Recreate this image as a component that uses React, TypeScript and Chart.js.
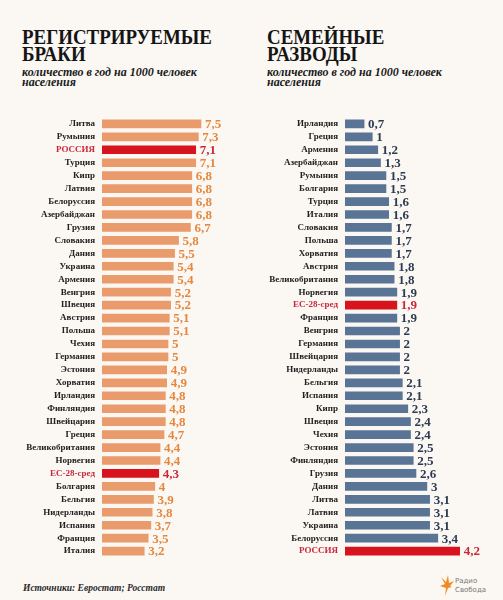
import React, { useEffect, useRef } from "react";
import { Chart, registerables } from "chart.js";

Chart.register(...registerables);

const marriageCountries = [
  "Литва", "Румыния", "РОССИЯ", "Турция", "Кипр", "Латвия", "Белоруссия", "Азербайджан",
  "Грузия", "Словакия", "Дания", "Украина", "Армения", "Венгрия", "Швеция", "Австрия",
  "Польша", "Чехия", "Германия", "Эстония", "Хорватия", "Ирландия", "Финляндия", "Швейцария",
  "Греция", "Великобритания", "Норвегия", "ЕС-28-сред", "Болгария", "Бельгия", "Нидерланды",
  "Испания", "Франция", "Италия",
];
const marriageValues = [
  7.5, 7.3, 7.1, 7.1, 6.8, 6.8, 6.8, 6.8, 6.7, 5.8, 5.5, 5.4, 5.4, 5.2, 5.2, 5.1, 5.1, 5, 5,
  4.9, 4.9, 4.8, 4.8, 4.8, 4.7, 4.4, 4.4, 4.3, 4, 3.9, 3.8, 3.7, 3.5, 3.2,
];

const divorceCountries = [
  "Ирландия", "Греция", "Армения", "Азербайджан", "Румыния", "Болгария", "Турция", "Италия",
  "Словакия", "Польша", "Хорватия", "Австрия", "Великобритания", "Норвегия", "ЕС-28-сред",
  "Франция", "Венгрия", "Германия", "Швейцария", "Нидерланды", "Бельгия", "Испания", "Кипр",
  "Швеция", "Чехия", "Эстония", "Финляндия", "Грузия", "Дания", "Литва", "Латвия", "Украина",
  "Белоруссия", "РОССИЯ",
];
const divorceValues = [
  0.7, 1, 1.2, 1.3, 1.5, 1.5, 1.6, 1.6, 1.7, 1.7, 1.7, 1.8, 1.8, 1.9, 1.9, 1.9, 2, 2, 2, 2,
  2.1, 2.1, 2.3, 2.4, 2.4, 2.5, 2.5, 2.6, 3, 3.1, 3.1, 3.1, 3.4, 4.2,
];

const highlighted = ["РОССИЯ", "ЕС-28-сред"];

const BG = "#FBF8F4";
const RED = "#D7131E";
const RED_TEXT = "#C9283A";
const LABEL = "#222222";
const SERIF = "'Liberation Serif', 'DejaVu Serif', serif";

type PanelCfg = {
  labels: string[];
  values: number[];
  barColor: string;
  valueColor: string;
  axisWidth: number;
  max: number;
  padRight: number;
};

function BarPanel({ cfg, width, height }: { cfg: PanelCfg; width: number; height: number }) {
  const ref = useRef<HTMLCanvasElement | null>(null);
  useEffect(() => {
    if (!ref.current) return;
    const isHi = (i: number) => highlighted.includes(cfg.labels[i]);
    const valuePlugin = {
      id: "valueLabels",
      afterDatasetsDraw(chart: any) {
        const ctx = chart.ctx;
        const meta = chart.getDatasetMeta(0);
        ctx.save();
        ctx.font = `bold 13px ${SERIF}`;
        ctx.textBaseline = "middle";
        ctx.textAlign = "left";
        meta.data.forEach((bar: any, i: number) => {
          const v = cfg.values[i];
          ctx.fillStyle = isHi(i) ? RED_TEXT : cfg.valueColor;
          const txt = String(v).replace(".", ",");
          ctx.fillText(txt, bar.x + 4, bar.y + 1);
        });
        ctx.restore();
      },
    };
    const chart = new Chart(ref.current, {
      type: "bar",
      data: {
        labels: cfg.labels,
        datasets: [
          {
            data: cfg.values,
            backgroundColor: cfg.values.map((_, i) => (isHi(i) ? RED : cfg.barColor)),
            barThickness: 8,
            borderWidth: 0,
          },
        ],
      },
      options: {
        indexAxis: "y",
        animation: false,
        responsive: false,
        maintainAspectRatio: false,
        layout: { padding: { top: 7.4, bottom: 8.4, left: 0, right: cfg.padRight } },
        plugins: { legend: { display: false }, tooltip: { enabled: false } },
        scales: {
          x: { display: false, min: 0, max: cfg.max },
          y: {
            grid: { display: false, drawTicks: false },
            border: { display: false },
            afterFit: (scale: any) => {
              scale.width = cfg.axisWidth;
            },
            ticks: {
              padding: 7,
              autoSkip: false,
              font: { family: SERIF, size: 9, weight: "bold" },
              color: (c: any) => (isHi(c.index) ? RED_TEXT : LABEL),
            },
          },
        },
      },
      plugins: [valuePlugin],
    } as any);
    return () => chart.destroy();
  }, [cfg, width, height]);
  return <canvas ref={ref} width={width} height={height} style={{ display: "block", width, height }} />;
}

const leftCfg: PanelCfg = {
  labels: marriageCountries,
  values: marriageValues,
  barColor: "#EA9B6C",
  valueColor: "#E4883F",
  axisWidth: 102,
  max: 10,
  padRight: 16,
};
const rightCfg: PanelCfg = {
  labels: divorceCountries,
  values: divorceValues,
  barColor: "#5A7495",
  valueColor: "#2D3B52",
  axisWidth: 95,
  max: 5,
  padRight: 21.5,
};

const titleStyle: React.CSSProperties = {
  position: "absolute",
  margin: 0,
  fontFamily: SERIF,
  fontWeight: "bold",
  fontSize: 21,
  lineHeight: "17px",
  color: "#151515",
  transform: "scaleX(0.9)",
  transformOrigin: "left top",
  whiteSpace: "nowrap",
};
const subStyle: React.CSSProperties = {
  position: "absolute",
  margin: 0,
  fontFamily: SERIF,
  fontWeight: "bold",
  fontStyle: "italic",
  fontSize: 12,
  lineHeight: "10px",
  color: "#1a1a1a",
  whiteSpace: "nowrap",
};

export default function App() {
  useEffect(() => {
    document.body.style.margin = "0";
    document.body.style.background = BG;
  }, []);
  return (
    <div style={{ position: "relative", width: 503, height: 600, background: BG, overflow: "hidden" }}>
      <div style={{ ...titleStyle, left: 22, top: 29 }}>
        РЕГИСТРИРУЕМЫЕ
        <br />
        БРАКИ
      </div>
      <div style={{ ...subStyle, left: 22, top: 67 }}>
        количество в год на 1000 человек
        <br />
        населения
      </div>
      <div style={{ ...titleStyle, left: 267, top: 29 }}>
        СЕМЕЙНЫЕ
        <br />
        РАЗВОДЫ
      </div>
      <div style={{ ...subStyle, left: 267, top: 67 }}>
        количество в год на 1000 человек
        <br />
        населения
      </div>
      <div style={{ position: "absolute", left: 0, top: 105 }}>
        <BarPanel cfg={leftCfg} width={250} height={465} />
      </div>
      <div style={{ position: "absolute", left: 250, top: 105 }}>
        <BarPanel cfg={rightCfg} width={253} height={465} />
      </div>
      <div
        style={{
          position: "absolute",
          left: 23,
          top: 583,
          fontFamily: SERIF,
          fontStyle: "italic",
          fontWeight: "bold",
          fontSize: 9.5,
          color: "#2a2a2a",
        }}
      >
        Источники: Евростат; Росстат
      </div>
      <svg style={{ position: "absolute", left: 439, top: 573 }} width={16} height={24} viewBox="0 0 16 24">
        <path d="M2 4 L7 9 L9 2 L10 10 L15 8 L11 13 L13 14 L9 15 L6 23 L7 15 L1 13 L6 11 Z" fill="#F08A24" />
      </svg>
      <div
        style={{
          position: "absolute",
          left: 455,
          top: 577,
          fontFamily: "'DejaVu Sans', sans-serif",
          fontSize: 7,
          lineHeight: "9px",
          color: "#777",
        }}
      >
        Радио
        <br />
        Свобода
      </div>
    </div>
  );
}
